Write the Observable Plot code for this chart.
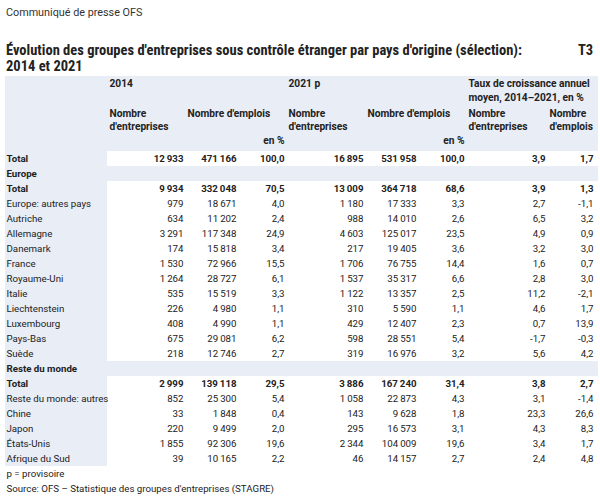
<!DOCTYPE html>
<html><head><meta charset="utf-8">
<script src="https://cdn.jsdelivr.net/npm/d3@7"></script>
<script src="https://cdn.jsdelivr.net/npm/@observablehq/plot@0.6"></script>
<style>
body{margin:0;background:#fff;font-family:Roboto,sans-serif;color:#222;}
#head{position:relative;height:70px;width:600px;}
.kicker{position:absolute;left:6px;top:7px;font-size:10.8px;line-height:12px;color:#333;}
.title{position:absolute;left:6px;top:43px;font-family:"Roboto Condensed",Roboto,sans-serif;font-size:14.5px;font-weight:bold;line-height:16px;}
.t3{position:absolute;left:578px;top:43px;font-family:"Roboto Condensed",Roboto,sans-serif;font-size:14.5px;font-weight:bold;line-height:16px;}
#chart svg{display:block;}
</style>
</head><body>
<div id="head">
  <div class="kicker">Communiqué de presse OFS</div>
  <div class="title">Évolution des groupes d'entreprises sous contrôle étranger par pays d'origine (sélection):<br>2014 et 2021</div>
  <div class="t3">T3</div>
</div>
<div id="chart"></div>
<script>
// ---- data ----
const labels = ["Total","Europe","Total","Europe: autres pays","Autriche","Allemagne","Danemark","France","Royaume-Uni","Italie","Liechtenstein","Luxembourg","Pays-Bas","Suède","Reste du monde","Total","Reste du monde: autres","Chine","Japon","États-Unis","Afrique du Sud"];
const boldRows = [0,1,2,14,15];
const sectionRows = [1,14];
const ent2014 = [12933,null,9934,979,634,3291,174,1530,1264,535,226,408,675,218,null,2999,852,33,220,1855,39];
const emp2014 = [471166,null,332048,18671,11202,117348,15818,72966,28727,15519,4980,4990,29081,12746,null,139118,25300,1848,9499,92306,10165];
const pct2014 = [100.0,null,70.5,4.0,2.4,24.9,3.4,15.5,6.1,3.3,1.1,1.1,6.2,2.7,null,29.5,5.4,0.4,2.0,19.6,2.2];
const ent2021 = [16895,null,13009,1180,988,4603,217,1706,1537,1122,310,429,598,319,null,3886,1058,143,295,2344,46];
const emp2021 = [531958,null,364718,17333,14010,125017,19405,76755,35317,13357,5590,12407,28551,16976,null,167240,22873,9628,16573,104009,14157];
const pct2021 = [100.0,null,68.6,3.3,2.6,23.5,3.6,14.4,6.6,2.5,1.1,2.3,5.4,3.2,null,31.4,4.3,1.8,3.1,19.6,2.7];
const growthEnt = [3.9,null,3.9,2.7,6.5,4.9,3.2,1.6,2.8,11.2,4.6,0.7,-1.7,5.6,null,3.8,3.1,23.3,4.3,3.4,2.4];
const growthEmp = [1.7,null,1.3,-1.1,3.2,0.9,3.0,0.7,3.0,-2.1,1.7,13.9,-0.3,4.2,null,2.7,-1.4,26.6,8.3,1.7,4.8];

const headerCells = [
  {row:"h0", text:"2014", col:"c1", anchor:"start"},
  {row:"h0", text:"2021 p", col:"c4", anchor:"start"},
  {row:"h0", text:"Taux de croissance annuel", col:"c7", anchor:"start"},
  {row:"h1", text:"moyen, 2014–2021, en %", col:"c7", anchor:"start"},
  {row:"h2", text:"Nombre", col:"c1", anchor:"start"},
  {row:"h2", text:"Nombre d'emplois", col:"c2", anchor:"start"},
  {row:"h2", text:"Nombre", col:"c4", anchor:"start"},
  {row:"h2", text:"Nombre d'emplois", col:"c5", anchor:"start"},
  {row:"h2", text:"Nombre", col:"c7", anchor:"start"},
  {row:"h2", text:"Nombre", col:"c8", anchor:"start"},
  {row:"h3", text:"d'entreprises", col:"c1", anchor:"start"},
  {row:"h3", text:"d'entreprises", col:"c4", anchor:"start"},
  {row:"h3", text:"d'entreprises", col:"c7", anchor:"start"},
  {row:"h3", text:"d'emplois", col:"c8", anchor:"start"},
  {row:"h4", text:"en %", col:"c3", anchor:"end"},
  {row:"h4", text:"en %", col:"c6", anchor:"end"}
];
const footnotes = ["p = provisoire", "Source: OFS – Statistique des groupes d'entreprises (STAGRE)"];

// ---- layout (pixel grid of the table) ----
const FONT = 'Roboto,sans-serif';
const BLUE = "#e8edf6";
const tableLeft = 5, tableRight = 598, cellLeft = 107, labelX = 6;
const colLeft = {c1:109, c2:187, c4:288, c5:367, c7:468, c8:549};
const colRight = {c1:183, c2:236, c3:284, c4:363, c5:416, c6:464, c7:545, c8:593};
const headerShift = {h0:0, h1:-1, h2:0, h3:-2, h4:-3};

// ---- build table ----
const loc = d3.formatLocale({decimal:",", thousands:"\u2009", grouping:[3], currency:["",""], minus:"-"});
const fInt = loc.format(",d"), fPct = loc.format(".1f");
const series = [
  {key:"c1", values:ent2014, fmt:fInt},
  {key:"c2", values:emp2014, fmt:fInt},
  {key:"c3", values:pct2014, fmt:fPct},
  {key:"c4", values:ent2021, fmt:fInt},
  {key:"c5", values:emp2021, fmt:fInt},
  {key:"c6", values:pct2021, fmt:fPct},
  {key:"c7", values:growthEnt, fmt:fPct},
  {key:"c8", values:growthEmp, fmt:fPct}
];
const headIds = ["h0","h1","h2","h3","h4"];
const rows = labels.map((label,i)=>({id:"d"+i, i, label, bold:boldRows.includes(i), section:sectionRows.includes(i)}));
const footIds = footnotes.map((_,i)=>"f"+i);
const yDomain = [...headIds, ...rows.map(r=>r.id), ...footIds];
const tableIds = [...headIds, ...rows.map(r=>r.id)];

const cells = [];
for (const s of series) rows.forEach(r => {
  const v = s.values[r.i];
  if (v != null) cells.push({id:r.id, col:s.key, text:s.fmt(v), bold:r.bold});
});

const H = 431;
const HEAD_SIZE = 10.2;
const headerMarks = headIds.flatMap(h => [
  Plot.text(headerCells.filter(c=>c.row===h && c.anchor==="start"), {x:c=>colLeft[c.col], y:"row", text:"text", textAnchor:"start", fontWeight:"bold", fontSize:HEAD_SIZE, fill:"#222", dy:headerShift[h]}),
  Plot.text(headerCells.filter(c=>c.row===h && c.anchor==="end"), {x:c=>colRight[c.col], y:"row", text:"text", textAnchor:"end", fontWeight:"bold", fontSize:HEAD_SIZE, fill:"#222", dy:headerShift[h]})
]);
const plot = Plot.plot({
  width:600, height:H, margin:0,
  x:{domain:[0,600], range:[0,600], axis:null},
  y:{type:"band", domain:yDomain, range:[4.2,427], padding:0, axis:null},
  style:{fontFamily:FONT, fontSize:"9.7px", color:"#222", background:"#fff"},
  marks:[
    Plot.barX(tableIds, {x1:()=>tableLeft, x2:()=>tableRight, y:d=>d, fill:BLUE}),
    Plot.barX(rows.filter(r=>!r.section), {x1:()=>cellLeft, x2:()=>tableRight, y:"id", fill:"#fff"}),
    Plot.text(rows.filter(r=>r.bold), {x:()=>labelX, y:"id", text:"label", textAnchor:"start", fontWeight:"bold", fill:"#222"}),
    Plot.text(rows.filter(r=>!r.bold), {x:()=>labelX, y:"id", text:"label", textAnchor:"start", fill:"#222"}),
    Plot.text(cells.filter(c=>c.bold), {x:c=>colRight[c.col], y:"id", text:"text", textAnchor:"end", fontWeight:"bold", fill:"#222"}),
    Plot.text(cells.filter(c=>!c.bold), {x:c=>colRight[c.col], y:"id", text:"text", textAnchor:"end", fill:"#222"}),
    ...headerMarks,
    Plot.text(footnotes, {x:()=>labelX, y:(d,i)=>footIds[i], text:d=>d, textAnchor:"start", fill:"#222"})
  ]
});
document.getElementById("chart").appendChild(plot);
</script>
</body></html>
